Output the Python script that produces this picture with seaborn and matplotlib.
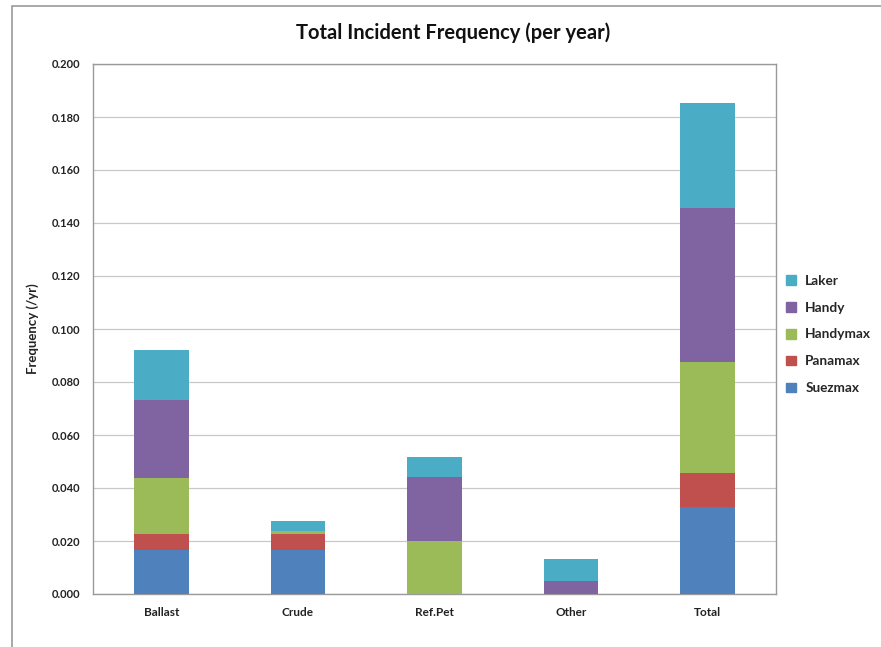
import matplotlib
matplotlib.use("Agg")
import matplotlib.pyplot as plt
import matplotlib.patches as mpatches
from matplotlib.ticker import MultipleLocator, FormatStrFormatter
import numpy as np
import pandas as pd
import seaborn as sns

# Incident frequency (/yr) by cargo condition and vessel class
categories = ["Ballast", "Crude", "Ref.Pet", "Other", "Total"]
suezmax = [0.0165, 0.0165, 0.0, 0.0, 0.0330]
panamax = [0.0060, 0.0060, 0.0, 0.0, 0.0126]
handymax = [0.0214, 0.0013, 0.0200, 0.0, 0.0418]
handy = [0.0292, 0.0, 0.0241, 0.0050, 0.0581]
laker = [0.0191, 0.0037, 0.0075, 0.0081, 0.0398]

series_names = ["Suezmax", "Panamax", "Handymax", "Handy", "Laker"]
series_values = [suezmax, panamax, handymax, handy, laker]
series_colors = ["#4F81BD", "#C0504D", "#9BBB59", "#8064A2", "#4BACC6"]

sns.set_theme(style="white")
plt.rcParams["font.family"] = ["Lato", "DejaVu Sans"]

fig = plt.figure(figsize=(8.81, 6.47), dpi=100)
ax = fig.add_axes([93 / 881, 53 / 647, 683 / 881, 530 / 647])

# stacked bars: draw cumulative totals from the top series down
cum = np.cumsum(np.array(series_values), axis=0)
for i in range(len(series_names) - 1, -1, -1):
    df = pd.DataFrame({"cat": categories, "val": cum[i]})
    sns.barplot(data=df, x="cat", y="val", color=series_colors[i],
                saturation=1, width=0.4, linewidth=0, ax=ax,
                label=series_names[i], zorder=3)

ax.set_ylim(0, 0.2)
ax.set_xlim(-0.5, len(categories) - 0.5)
ax.yaxis.set_major_locator(MultipleLocator(0.02))
ax.yaxis.set_major_formatter(FormatStrFormatter("%.3f"))
ax.grid(axis="y", color="#c8c8c8", linewidth=0.9, zorder=0)
ax.set_axisbelow(True)

for s in ax.spines.values():
    s.set_visible(True)
    s.set_color("#9a9a9a")
    s.set_linewidth(1.0)

# category ticks sit between bars
ax.set_xticks(np.arange(len(categories)))
ax.set_xticklabels(categories, fontsize=8.5, fontweight="bold", color="#222222")
ax.tick_params(axis="x", length=0, pad=9)
ax.set_xticks(np.arange(-0.5, len(categories)), minor=True)
ax.tick_params(axis="x", which="minor", length=4, color="#9a9a9a", width=1, direction="out")
ax.tick_params(axis="y", length=5, color="#9a9a9a", width=1, direction="out", pad=4,
               labelsize=8, labelcolor="#222222")
for lab in ax.get_yticklabels():
    lab.set_fontweight("bold")

ax.set_xlabel("")
ax.set_ylabel("Frequency (/yr)", fontsize=9.5, fontweight="bold", color="#222222", labelpad=9)

fig.text(453 / 881, 1 - 33 / 647, "Total Incident Frequency (per year)",
         ha="center", va="center", fontsize=14.5, fontweight="bold", color="#111111")

handles = [mpatches.Patch(color=series_colors[i], label=series_names[i])
           for i in range(len(series_names) - 1, -1, -1)]
if ax.get_legend() is not None:
    ax.get_legend().remove()
fig.legend(handles=handles, loc="center left", bbox_to_anchor=(774 / 881, 1 - 334.5 / 647),
           frameon=False, prop={"weight": "bold", "size": 9.8},
           handlelength=0.7, handleheight=0.7, handletextpad=0.7, labelspacing=1.1)

# outer chart frame
frame = mpatches.Rectangle((12 / 881, -0.05), 1.2, 1 - 6 / 647 + 0.05,
                           transform=fig.transFigure, fill=False,
                           edgecolor="#9a9a9a", linewidth=1.2)
fig.patches.append(frame)

fig.savefig("out.png", dpi=100, facecolor="white")
